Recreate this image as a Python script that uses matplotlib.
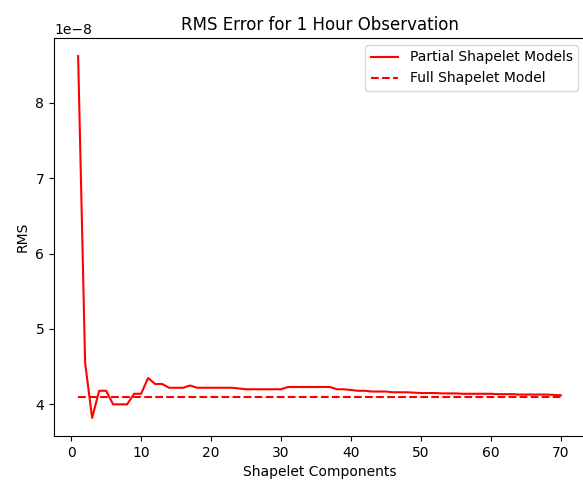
import numpy as np
import matplotlib
matplotlib.use("Agg")
import matplotlib.pyplot as plt

# number of shapelet components used
components = list(range(1, 71))

# RMS error (units of 1e-8) for partial shapelet models
partial_rms = [
    8.62, 4.55, 3.82, 4.18, 4.18, 4.00, 4.00, 4.00, 4.14, 4.14,
    4.35, 4.27, 4.27, 4.22, 4.22, 4.22, 4.25, 4.22, 4.22, 4.22,
    4.22, 4.22, 4.22, 4.21, 4.20, 4.20, 4.20, 4.20, 4.20, 4.20,
    4.23, 4.23, 4.23, 4.23, 4.23, 4.23, 4.23, 4.20, 4.20, 4.19,
    4.18, 4.18, 4.17, 4.17, 4.17, 4.16, 4.16, 4.16, 4.155, 4.15,
    4.15, 4.15, 4.145, 4.145, 4.145, 4.14, 4.14, 4.14, 4.14, 4.14,
    4.135, 4.135, 4.135, 4.13, 4.13, 4.13, 4.13, 4.13, 4.125, 4.12,
]

# RMS error of the full shapelet model
full_rms = 4.10

x = np.array(components)
y = np.array(partial_rms) * 1e-8

fig = plt.figure(figsize=(5.83, 4.86), dpi=100)
ax = fig.add_axes([54 / 583, 50 / 486, 531 / 583, 398 / 486])

ax.plot(x, y, color="red", label="Partial Shapelet Models")
ax.plot(x, np.full(len(x), full_rms * 1e-8), color="red", linestyle="--",
        label="Full Shapelet Model")

ax.set_title("RMS Error for 1 Hour Observation")
ax.set_xlabel("Shapelet Components")
ax.set_ylabel("RMS")
ax.legend(loc="upper right")

fig.savefig("out.png", dpi=100)
